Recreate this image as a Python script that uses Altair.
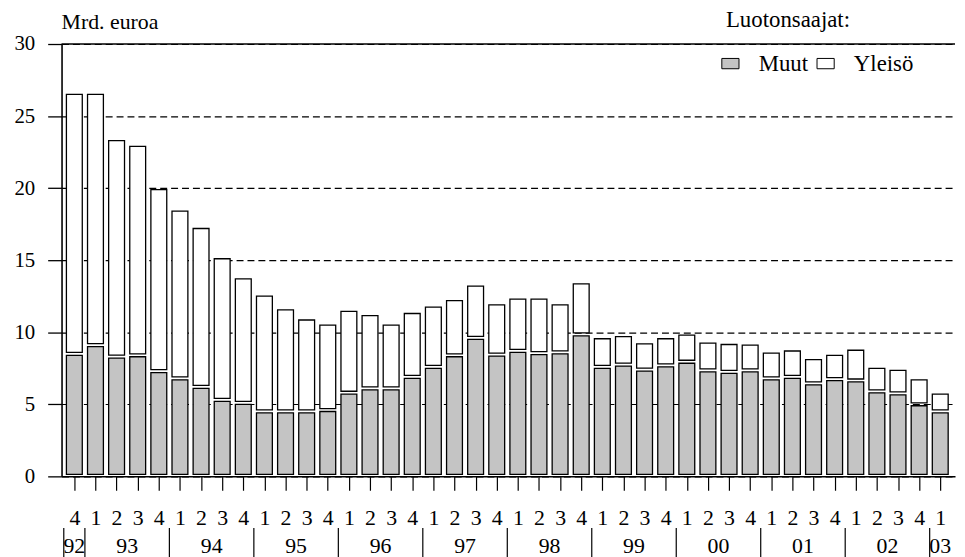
import altair as alt
import pandas as pd

# Quarter labels (92Q4 ... 03Q1)
quarters = ["4",
            "1", "2", "3", "4",
            "1", "2", "3", "4",
            "1", "2", "3", "4",
            "1", "2", "3", "4",
            "1", "2", "3", "4",
            "1", "2", "3", "4",
            "1", "2", "3", "4",
            "1", "2", "3", "4",
            "1", "2", "3", "4",
            "1", "2", "3", "4",
            "1"]
years = ["92",
         "93", "93", "93", "93",
         "94", "94", "94", "94",
         "95", "95", "95", "95",
         "96", "96", "96", "96",
         "97", "97", "97", "97",
         "98", "98", "98", "98",
         "99", "99", "99", "99",
         "00", "00", "00", "00",
         "01", "01", "01", "01",
         "02", "02", "02", "02",
         "03"]

# Mrd. euroa
muut = [8.4, 9.0, 8.2, 8.3, 7.2, 6.7, 6.1, 5.2, 5.0, 4.4,
        4.4, 4.4, 4.5, 5.7, 6.0, 6.0, 6.8, 7.5, 8.3, 9.5,
        8.35, 8.6, 8.45, 8.5, 9.75, 7.5, 7.65, 7.3, 7.6, 7.85,
        7.25, 7.15, 7.25, 6.7, 6.8, 6.35, 6.65, 6.55, 5.8, 5.65,
        4.9, 4.4]
yleiso = [18.1, 17.5, 15.1, 14.6, 12.7, 11.7, 11.1, 9.9, 8.7, 8.1,
          7.15, 6.45, 6.0, 5.75, 5.15, 4.5, 4.5, 4.25, 3.9, 3.7,
          3.55, 3.7, 3.85, 3.4, 3.6, 2.05, 2.05, 1.9, 1.95, 1.95,
          2.0, 2.0, 1.85, 1.85, 1.9, 1.75, 1.75, 2.2, 1.7, 1.7,
          1.8, 1.3]

series_names = ["Muut", "Yleisö"]
y_ticks = [0, 5, 10, 15, 20, 25, 30]

FONT = "Liberation Serif"
GRAY = "#c4c4c4"

df = pd.DataFrame({
    "idx": list(range(len(quarters))),
    "quarter": quarters,
    "year": years,
    "muut": muut,
    "yleiso": yleiso,
})

x_scale = alt.Scale(domain=[-0.371, 41.465], nice=False, zero=False)
y_scale = alt.Scale(domain=[0, 30], nice=False)
fill_scale = alt.Scale(domain=series_names, range=[GRAY, "white"])

label_expr = "[" + ",".join("'" + q + "'" for q in quarters) + "][datum.value]"

x_axis = alt.Axis(
    values=list(range(len(quarters))), tickCount=len(quarters),
    labelExpr=label_expr, title=None,
    grid=False, tickSize=14, tickColor="black", tickWidth=1.2,
    domainColor="black", domainWidth=1.5,
    labelFont=FONT, labelFontSize=22, labelColor="black",
    labelBaseline="alphabetic", labelPadding=35,
    labelOverlap=False, labelFlush=False, labelBound=False,
)
y_axis = alt.Axis(
    values=y_ticks, tickCount=len(y_ticks), title=None, grid=True, gridDash=[7, 4],
    gridColor="black", gridWidth=1.2, gridOpacity=1,
    tickSize=14, tickColor="black", tickWidth=1.3,
    domainColor="black", domainWidth=1.6,
    labelFont=FONT, labelFontSize=21, labelColor="black", labelPadding=13,
    labelOverlap=False, labelFlush=False,
)

legend = alt.Legend(
    title=None, orient="none", legendX=663, legendY=8, direction="horizontal",
    symbolType="M-1,-0.6H1V0.6H-1Z", symbolSize=300,
    symbolStrokeColor="black", symbolStrokeWidth=1,
    labelFont=FONT, labelFontSize=23, labelColor="black",
    labelOffset=17, columnPadding=6, padding=0,
)

base = alt.Chart(df)

gray_bars = base.transform_calculate(
    series="'Muut'"
).mark_bar(
    size=16, stroke="black", strokeWidth=1.3, orient="vertical", y2Offset=-2
).encode(
    x=alt.X("idx:Q", scale=x_scale, axis=x_axis),
    y=alt.Y("muut:Q", scale=y_scale, axis=y_axis),
    y2=alt.datum(0),
    fill=alt.Fill("series:N", scale=fill_scale, legend=legend),
)

white_bars = base.transform_calculate(
    total="datum.muut + datum.yleiso", series="'Yleisö'"
).mark_bar(
    size=16, stroke="black", strokeWidth=1.3, orient="vertical", y2Offset=-3
).encode(
    x=alt.X("idx:Q", scale=x_scale),
    y=alt.Y("total:Q", scale=y_scale),
    y2=alt.Y2("muut:Q"),
    fill=alt.Fill("series:N", scale=fill_scale, legend=legend),
)

top_rule = alt.Chart(pd.DataFrame({"v": [30]})).mark_rule(
    color="black", strokeWidth=1.6
).encode(y=alt.Y("v:Q", scale=y_scale), x=alt.value(0), x2=alt.value(901))

year_labels = base.transform_aggregate(
    mid="mean(idx)", groupby=["year"]
).mark_text(
    font=FONT, fontSize=22, color="black", baseline="alphabetic", align="center"
).encode(
    x=alt.X("mid:Q", scale=x_scale),
    y=alt.value(513),
    text="year:N",
)

separators = base.transform_aggregate(
    first="min(idx)", groupby=["year"]
).transform_calculate(
    sep="datum.first - 0.5"
).mark_rule(color="black", strokeWidth=1.2).encode(
    x=alt.X("sep:Q", scale=x_scale),
    y=alt.value(488),
    y2=alt.value(520),
)

unit_label = alt.Chart(pd.DataFrame({"t": ["Mrd. euroa"]})).mark_text(
    font=FONT, fontSize=22, color="black", baseline="alphabetic", align="left"
).encode(x=alt.value(0), y=alt.value(-15), text="t:N")

legend_title = alt.Chart(pd.DataFrame({"t": ["Luotonsaajat:"]})).mark_text(
    font=FONT, fontSize=23, color="black", baseline="alphabetic", align="left"
).encode(x=alt.value(670), y=alt.value(-17), text="t:N")

chart = alt.layer(
    gray_bars, white_bars, top_rule, year_labels, separators, unit_label, legend_title
).properties(
    width=901, height=436,
    padding={"left": 54, "top": 34, "right": 2, "bottom": 79},
    autosize=alt.AutoSizeParams(type="none"),
).configure_view(stroke=None)

chart.save("out.html", embed_options={"renderer": "svg", "actions": False})
